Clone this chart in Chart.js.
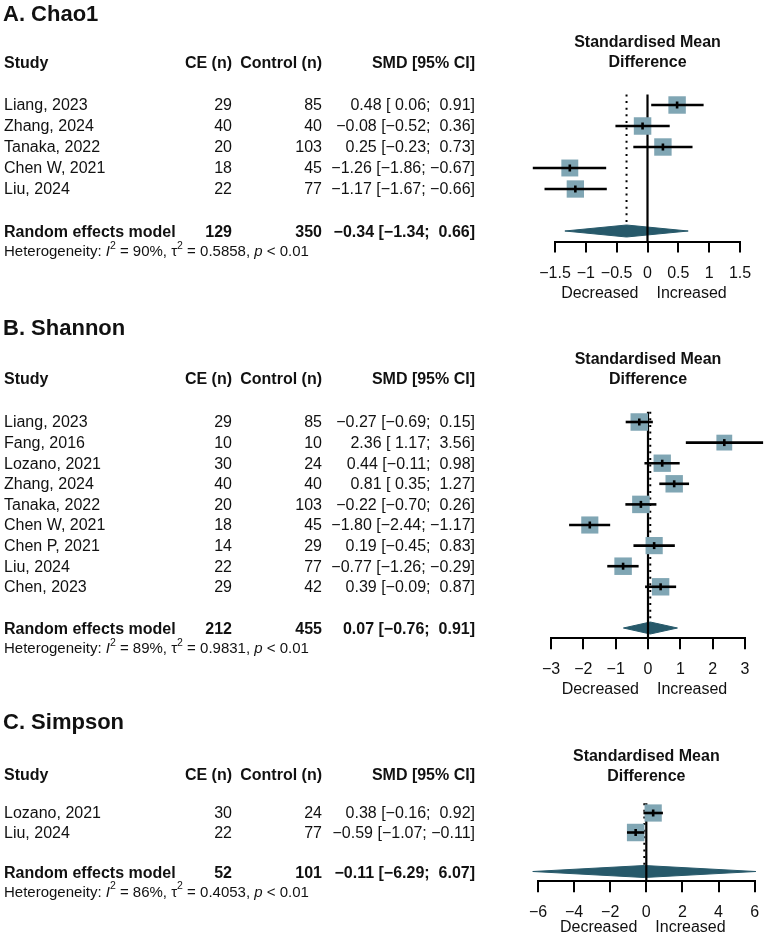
<!DOCTYPE html>
<html><head><meta charset="utf-8">
<script src="https://cdn.jsdelivr.net/npm/chart.js@4.4.1/dist/chart.umd.min.js"></script>
<style>
html,body{margin:0;padding:0;background:#fff;width:767px;height:937px;overflow:hidden}
.panel{position:absolute;left:0;width:767px}
canvas{display:block}
</style></head><body>
<div class="panel" style="top:0px"><canvas id="cA" width="767" height="305"></canvas></div>
<div class="panel" style="top:305px"><canvas id="cB" width="767" height="390"></canvas></div>
<div class="panel" style="top:695px"><canvas id="cC" width="767" height="242"></canvas></div>
<script>
// ---------- DATA ----------
const chaoStudies = ['Liang, 2023','Zhang, 2024','Tanaka, 2022','Chen W, 2021','Liu, 2024'];
const chaoCE      = [29, 40, 20, 18, 22];
const chaoCtrl    = [85, 40, 103, 45, 77];
const chaoSMD     = [0.48, -0.08, 0.25, -1.26, -1.17];
const chaoLo      = [0.06, -0.52, -0.23, -1.86, -1.67];
const chaoHi      = [0.91, 0.36, 0.73, -0.67, -0.66];
const chaoWeight  = [20.3, 20.4, 20.2, 19.1, 20.0];
const chaoPooled  = [129, 350, -0.34, -1.34, 0.66];   // CE n, Control n, SMD, lo, hi
const chaoHet     = ['90', '0.5858', '< 0.01'];
const chaoTicks   = [-1.5, 1.5, 0.5];

const shanStudies = ['Liang, 2023','Fang, 2016','Lozano, 2021','Zhang, 2024','Tanaka, 2022','Chen W, 2021','Chen P, 2021','Liu, 2024','Chen, 2023'];
const shanCE      = [29, 10, 30, 40, 20, 18, 14, 22, 29];
const shanCtrl    = [85, 10, 24, 40, 103, 45, 29, 77, 42];
const shanSMD     = [-0.27, 2.36, 0.44, 0.81, -0.22, -1.80, 0.19, -0.77, 0.39];
const shanLo      = [-0.69, 1.17, -0.11, 0.35, -0.70, -2.44, -0.45, -1.26, -0.09];
const shanHi      = [0.15, 3.56, 0.98, 1.27, 0.26, -1.17, 0.83, -0.29, 0.87];
const shanWeight  = [11.5, 9.4, 11.3, 11.4, 11.5, 11.0, 11.1, 11.5, 11.4];
const shanPooled  = [212, 455, 0.07, -0.76, 0.91];
const shanHet     = ['89', '0.9831', '< 0.01'];
const shanTicks   = [-3, 3, 1];

const simpStudies = ['Lozano, 2021','Liu, 2024'];
const simpCE      = [30, 22];
const simpCtrl    = [24, 77];
const simpSMD     = [0.38, -0.59];
const simpLo      = [-0.16, -1.07];
const simpHi      = [0.92, -0.11];
const simpWeight  = [49.2, 50.8];
const simpPooled  = [52, 101, -0.11, -6.29, 6.07];
const simpHet     = ['86', '0.4053', '< 0.01'];
const simpTicks   = [-6, 6, 2];

const panelTitles = ['A. Chao1', 'B. Shannon', 'C. Simpson'];

// ---------- STYLE / LAYOUT ----------
const FONT = '"Liberation Sans", Arial, Helvetica, sans-serif';
const TXT = '#111111';
const SQ = '#80a6b4';
const DIA = '#27596a';

function fmt(v){ return (v < 0 ? '\u2212' : '') + Math.abs(v).toFixed(2); }
function pad(v){ return (v >= 0 ? ' ' : '') + fmt(v); }
function ciText(s, lo, hi){ return fmt(s) + ' [' + pad(lo) + '; ' + pad(hi) + ']'; }

function makePanel(canvasId, L, d){
  const n = d.studies.length;
  const S = n + 1;                // summary row index
  const chartTop = L.row0 - L.step / 2;
  const chartBottom = L.row0 + (S + 0.5) * L.step;
  const H = L.h;
  const wmax = Math.max(...d.weight);
  const datasets = [];
  // point-estimate ticks
  datasets.push({type:'scatter', data:d.smd.map((x,i)=>({x, y:i})), pointStyle:'line', rotation:90,
    pointRadius:3.5, borderColor:'#000', borderWidth:2.6, clip:false});
  // CI lines
  d.smd.forEach((s,i)=>{
    datasets.push({type:'line', data:[{x:d.lo[i], y:i},{x:d.hi[i], y:i}], borderColor:'#000',
      borderWidth:2.6, pointRadius:0, clip:false, fill:false});
  });
  // squares
  datasets.push({type:'scatter', data:d.smd.map((x,i)=>({x, y:i})), pointStyle:'rect',
    pointRadius:d.weight.map(w => 17.5 * Math.sqrt(w / wmax) / Math.SQRT2),
    backgroundColor:SQ, borderWidth:0, clip:false});
  // zero line
  datasets.push({type:'line', data:[{x:0, y:-0.5},{x:0, y:S + 0.5}], borderColor:'#000',
    borderWidth:2.2, pointRadius:0, clip:false, fill:false});
  // diamond
  const p = d.pooled;
  const hh = 6 / L.step;
  datasets.push({type:'line', data:[{x:p[3], y:S},{x:p[2], y:S - hh},{x:p[4], y:S},{x:p[2], y:S + hh},{x:p[3], y:S}],
    borderColor:DIA, backgroundColor:DIA, borderWidth:1, pointRadius:0, tension:0, fill:'shape', clip:false});
  // dotted random-effects line
  datasets.push({type:'line', data:[{x:p[2], y:-0.5},{x:p[2], y:S - hh}], borderColor:'#000',
    borderWidth:2, borderDash:[2, 4.6], pointRadius:0, clip:false, fill:false});

  const tablePlugin = {
    id:'table'+canvasId,
    afterDraw(chart){
      const ctx = chart.ctx;
      const ys = chart.scales.y, xs = chart.scales.x;
      const off = L.top;
      ctx.save();
      ctx.fillStyle = TXT;
      ctx.textBaseline = 'middle';
      // panel title
      ctx.font = 'bold 22px ' + FONT; ctx.textAlign = 'left';
      ctx.fillText(d.title, 3, L.titleY - off);
      // SMD title
      const cx = (chart.chartArea.left + chart.chartArea.right) / 2;
      ctx.font = 'bold 16px ' + FONT; ctx.textAlign = 'center';
      ctx.fillText('Standardised Mean', cx, L.smdY - off);
      ctx.fillText('Difference', cx, L.smdY + 20 - off);
      // header
      const hy = L.headerY - off;
      ctx.textAlign = 'left'; ctx.fillText('Study', 4, hy);
      ctx.textAlign = 'right';
      ctx.fillText('CE (n)', 232, hy);
      ctx.fillText('Control (n)', 322, hy);
      ctx.fillText('SMD [95% CI]', 475, hy);
      // rows
      ctx.font = '16px ' + FONT;
      d.studies.forEach((s,i)=>{
        const y = ys.getPixelForValue(i) + 1;
        ctx.textAlign = 'left'; ctx.fillText(s, 4, y);
        ctx.textAlign = 'right';
        ctx.fillText(String(d.ce[i]), 232, y);
        ctx.fillText(String(d.ctrl[i]), 322, y);
        ctx.fillText(ciText(d.smd[i], d.lo[i], d.hi[i]), 475, y);
      });
      // summary
      const sy = ys.getPixelForValue(S) + 2;
      ctx.font = 'bold 16px ' + FONT;
      ctx.textAlign = 'left'; ctx.fillText('Random effects model', 4, sy);
      ctx.textAlign = 'right';
      ctx.fillText(String(p[0]), 232, sy);
      ctx.fillText(String(p[1]), 322, sy);
      ctx.fillText(ciText(p[2], p[3], p[4]), 475, sy);
      // heterogeneity
      const segs = [['Heterogeneity: ','n'],['I','i'],['2','s'],[' = ' + d.het[0] + '%, ','n'],['\u03c4','n'],['2','s'],
                    [' = ' + d.het[1] + ', ','n'],['p','i'],[' ' + d.het[2],'n']];
      let x = 4; const hyy = sy + 19;
      ctx.textAlign = 'left';
      segs.forEach(([t,k])=>{
        let yy = hyy;
        if (k === 'n') ctx.font = '15px ' + FONT;
        else if (k === 'i') ctx.font = 'italic 15px ' + FONT;
        else { ctx.font = '10.5px ' + FONT; yy = hyy - 6; }
        ctx.fillText(t, x, yy);
        x += ctx.measureText(t).width;
      });
      // Decreased / Increased
      const x0 = xs.getPixelForValue(0);
      ctx.font = '16px ' + FONT;
      const dy = chart.chartArea.bottom + L.decOff;
      ctx.textAlign = 'right'; ctx.fillText('Decreased', x0 - 9, dy);
      ctx.textAlign = 'left'; ctx.fillText('Increased', x0 + 9, dy);
      ctx.restore();
    }
  };

  return new Chart(document.getElementById(canvasId), {
    type:'scatter',
    data:{datasets},
    options:{
      responsive:false, animation:false, devicePixelRatio:1,
      events:[],
      layout:{padding:{left:L.left, right:767 - L.right, top:chartTop - L.top, bottom:0}},
      plugins:{legend:{display:false}, tooltip:{enabled:false}, title:{display:false}},
      scales:{
        x:{type:'linear', position:'bottom', min:d.ticks[0], max:d.ticks[1],
          afterFit(s){ s.height = H - (chartBottom - L.top); s.paddingLeft = 0; s.paddingRight = 0; },
          border:{display:true, color:'#000', width:2},
          grid:{drawOnChartArea:false, drawTicks:true, tickLength:11, color:'#000', lineWidth:2},
          ticks:{stepSize:d.ticks[2], color:TXT, font:{family:FONT, size:16}, padding:11, maxRotation:0,
            autoSkip:false, callback:(v)=>String(v).replace('-', '\u2212')}
        },
        y:{type:'linear', display:false, reverse:true, min:-0.5, max:S + 0.5}
      }
    },
    plugins:[tablePlugin]
  });
}

makePanel('cA', {top:0, h:305, titleY:15, smdY:43, headerY:64, row0:105, step:21, left:555, right:740, decOff:52},
  {title:panelTitles[0], studies:chaoStudies, ce:chaoCE, ctrl:chaoCtrl, smd:chaoSMD, lo:chaoLo, hi:chaoHi,
   weight:chaoWeight, pooled:chaoPooled, het:chaoHet, ticks:chaoTicks});
makePanel('cB', {top:305, h:390, titleY:329, smdY:360, headerY:380, row0:422, step:20.6, left:551, right:745, decOff:51},
  {title:panelTitles[1], studies:shanStudies, ce:shanCE, ctrl:shanCtrl, smd:shanSMD, lo:shanLo, hi:shanHi,
   weight:shanWeight, pooled:shanPooled, het:shanHet, ticks:shanTicks});
makePanel('cC', {top:695, h:242, titleY:723, smdY:757, headerY:776, row0:813, step:19.5, left:538, right:758, decOff:46},
  {title:panelTitles[2], studies:simpStudies, ce:simpCE, ctrl:simpCtrl, smd:simpSMD, lo:simpLo, hi:simpHi,
   weight:simpWeight, pooled:simpPooled, het:simpHet, ticks:simpTicks});
</script>
</body></html>
